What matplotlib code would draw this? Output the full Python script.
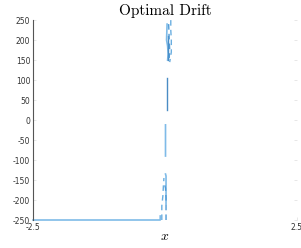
import numpy as np
import matplotlib
matplotlib.use("Agg")
import matplotlib.pyplot as plt

plt.rcParams['axes.unicode_minus'] = False
plt.rcParams['mathtext.fontset'] = 'cm'

nan = np.nan
# solid light line
x_solid = [-2.5, -0.09, -0.09, nan, 0.02, 0.02, 0.01, nan, 0.01, 0.01, nan, 0.04, 0.03, 0.05, 0.06, 0.05]
y_solid = [-250, -250, -240, nan, -210, -140, -135, nan, -90, -12, nan, 240, 200, 185, 165, 150]
# dashed line
x_dash = [-0.06, -0.06, -0.04, -0.03, -0.02, nan, 0.11, 0.11, 0.12, 0.12, 0.09]
y_dash = [-250, -215, -190, -165, -145, nan, 250, 225, 200, 170, 145]
# darker solid middle part
x_dark = [0.03, 0.03, nan, 0.05, 0.05]
y_dark = [25, 105, nan, 150, 210]
# dashed darker
x_dash2 = [0.02, 0.02, 0.01, -0.01, nan, 0.07, 0.08, 0.09, 0.08]
y_dash2 = [-250, -195, -170, -160, nan, 240, 200, 175, 155]

fig = plt.figure(figsize=(3.01, 2.48), dpi=100)
ax = fig.add_axes([0.1096, 0.1129, 0.877, 0.806])

ax.plot(x_solid, y_solid, '-', color='#7fbbe8', lw=1.2, clip_on=False)
ax.plot(x_dash, y_dash, '--', color='#6aaee0', lw=1.0, dashes=(4, 3), clip_on=False)
ax.plot(x_dark, y_dark, '-', color='#4a8cc4', lw=1.0)
ax.plot(x_dash2, y_dash2, '--', color='#4f9ad6', lw=1.0, dashes=(4, 3), clip_on=False)

ax.set_xlim(-2.5, 2.5)
ax.set_ylim(-250, 250)
ax.set_xticks([-2.5, 2.5])
ax.set_xticklabels(['-2.5', '2.5'])
ax.set_yticks(np.arange(-250, 251, 50))

for s in ['top', 'right', 'bottom']:
    ax.spines[s].set_visible(False)
ax.spines['left'].set_color('#555555')
ax.spines['left'].set_linewidth(0.8)
ax.tick_params(axis='both', direction='in', length=2, width=0.5, color='#dddddd',
               labelsize=5.5, labelcolor='#333333', pad=2)
ax.tick_params(axis='y', right=True)

ax.set_title('Optimal Drift', fontfamily='cmr10', fontsize=11, pad=4)
ax.set_xlabel('$x$', fontsize=10, labelpad=-2)

fig.savefig('out.png', dpi=100)
